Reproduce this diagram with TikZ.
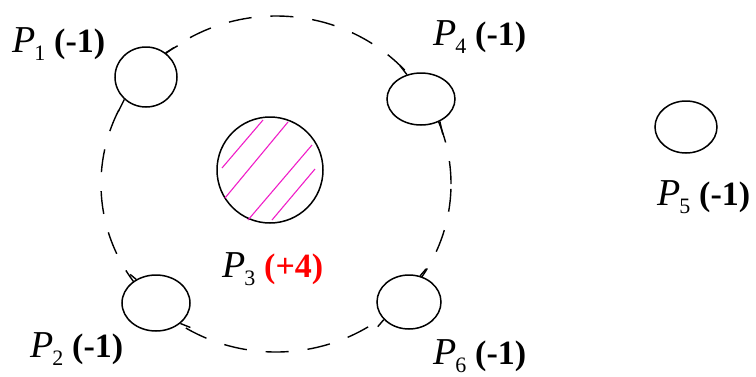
\documentclass[tikz,border=0pt]{standalone}
\usepackage{fontspec}
\setmainfont{Liberation Serif}
\newfontfamily\tms{Liberation Serif}
\usetikzlibrary{shapes.geometric}
\definecolor{hatchpink}{RGB}{240,30,200}
\definecolor{plusred}{RGB}{255,0,0}
\newcommand\plab[2]{\makebox[42pt][l]{{\fontsize{38}{40}\selectfont\textit{P}}\kern-1pt\raisebox{-8pt}{\fontsize{22}{22}\selectfont #1}}\textbf{#2}}
\begin{document}
\begin{tikzpicture}[x=1pt,y=-1pt,
  orbit/.style={draw, line width=1.4pt, dash pattern=on 23pt off 19pt},
  ion/.style={shape=ellipse, draw, fill=white, line width=1.5pt, inner sep=0pt},
  tick/.style={line width=1.4pt},
  hatch/.style={hatchpink, line width=1.1pt},
  lab/.style={inner sep=0pt, anchor=base west, font=\tms\fontsize{34}{38}\selectfont}]
\useasboundingbox (0,0) rectangle (756,376);
% dashed orbit
\node[shape=ellipse, orbit, minimum width=350pt, minimum height=336pt, inner sep=0pt] (orb) at (276,184) {};
% central ion
\node[shape=circle, draw, line width=1.5pt, minimum size=106pt, inner sep=0pt] (c3) at (270,170) {};
\draw[hatch] ([shift={(-48,-2)}]c3.center) -- ([shift={(-7,-50)}]c3.center);
\draw[hatch] ([shift={(-45,28)}]c3.center) -- ([shift={(18,-48)}]c3.center);
\draw[hatch] ([shift={(-22,50)}]c3.center) -- ([shift={(42,-25)}]c3.center);
\draw[hatch] ([shift={(2,50)}]c3.center) -- ([shift={(45,-1)}]c3.center);
% small ions
\node[ion, minimum width=62pt, minimum height=60pt] (c1) at (146,77) {};
\node[ion, minimum width=68pt, minimum height=52pt] (c4) at (421,99) {};
\node[ion, minimum width=68pt, minimum height=56pt] (c2) at (156,303) {};
\node[ion, minimum width=64pt, minimum height=54pt] (c6) at (409,302) {};
\node[ion, minimum width=62pt, minimum height=52pt] (c5) at (686,127) {};
% ticks where the orbit meets the ions
\draw[tick] (c1.51) -- ++(12,-7);
\draw[tick] (c1.226) -- ++(-6,12);
\draw[tick] (c4.120) -- ++(-7,-9);
\draw[tick] (c4.310) -- ++(3,13);
\draw[tick] (c2.130) -- ++(-6,-5);
\draw[tick] (c2.320) -- ++(10,4);
\draw[tick] (c6.67) -- ++(6,-7);
\draw[tick] (c6.215) -- ++(-6,7);
% labels
\node[lab] (l1) at (12,52) {\plab{1}{(-1)}};
\node[lab] (l4) at (433,45) {\plab{4}{(-1)}};
\node[lab] (l2) at (30,357) {\plab{2}{(-1)}};
\node[lab] (l6) at (433,364) {\plab{6}{(-1)}};
\node[lab] (l5) at (657,205) {\plab{5}{(-1)}};
\node[lab] (l3) at (222,277) {\plab{3}{\textcolor{plusred}{(+4)}}};
\end{tikzpicture}
\end{document}
